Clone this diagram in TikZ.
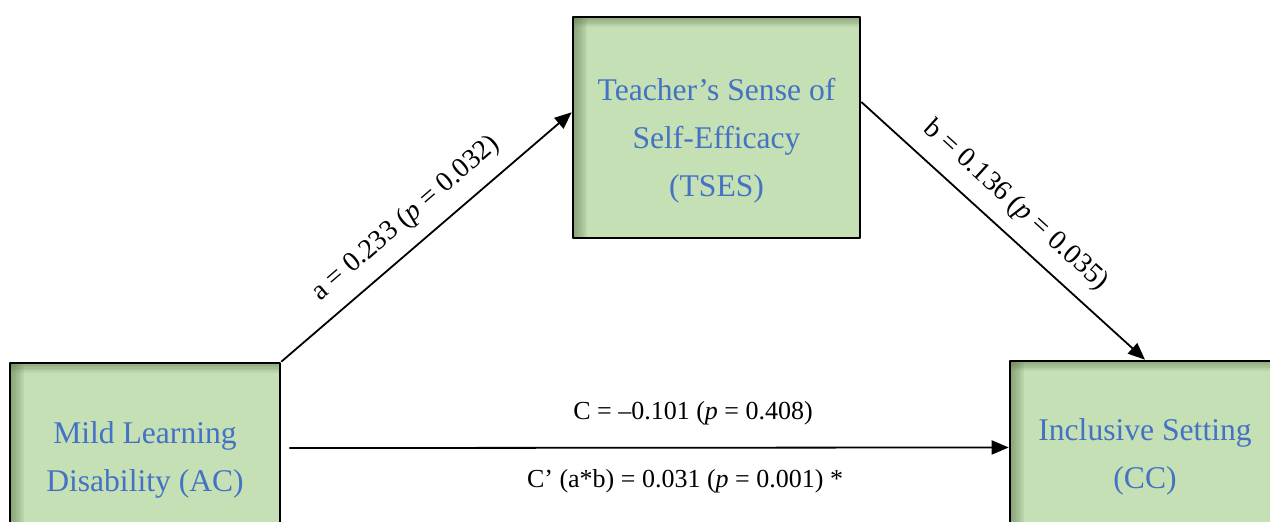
\documentclass[tikz,border=0pt]{standalone}
\usepackage{fontspec}
\setmainfont{Liberation Serif}
\usetikzlibrary{arrows.meta}
\definecolor{boxfill}{HTML}{C5E0B4}
\definecolor{boxtext}{HTML}{4472C4}
\definecolor{boxshade}{HTML}{5F7A4E}
\newcommand{\boxfontsize}{\fontsize{15.8}{24}\selectfont}
\newcommand{\coeffontsize}{\fontsize{13}{16}\selectfont}
\newcommand{\slopefontsize}{\fontsize{14}{17}\selectfont}
\newcommand{\droptext}[2]{\raisebox{-#1}[\height][\depth]{\begin{tabular}{@{}c@{}}#2\end{tabular}}}
\tikzset{
  every picture/.style = {line join=round},
  innershade/.style    = {path picture={
      \foreach \k in {1,...,7}{
        \fill[boxshade, opacity=0.11] (path picture bounding box.north west)
          rectangle ([xshift=\k pt]path picture bounding box.south west);
        \fill[boxshade, opacity=0.09] (path picture bounding box.north west)
          rectangle ([yshift={-0.7*\k pt}]path picture bounding box.north east);
      }}},
  varbox/.style        = {draw=black, line width=1.3pt, fill=boxfill, text=boxtext,
                          font=\boxfontsize, align=center, inner sep=0pt, innershade},
  effect/.style        = {line width=0.9pt, -{Triangle[length=8.5pt, width=7pt]}},
  coef/.style          = {font=\coeffontsize, text=black},
  slopecoef/.style     = {font=\slopefontsize, text=black, sloped},
}

\begin{document}
\begin{tikzpicture}[x=0.5pt, y=0.5pt]
  \useasboundingbox (0,0) rectangle (1270,522);
  \clip (0,0) rectangle (1270,522);

  % the three variables of the mediation model
  \node[varbox, minimum width=143.5pt, minimum height=110.5pt] (tses) at (716.5,394.5)
    {\droptext{5.5pt}{Teacher’s Sense of\\Self-Efficacy\\(TSES)}};
  \node[varbox, minimum width=135pt, minimum height=97pt] (ac) at (145,62)
    {Mild Learning\\Disability (AC)};
  \node[varbox, minimum width=135pt, minimum height=96pt] (cc) at (1145,65)
    {Inclusive Setting\\(CC)};

  % paths a and b through the mediator
  \draw[effect] (ac.north east) -- (tses.174)
    node[slopecoef, pos=0.49, above=3.5pt] (pathA) {a = 0.233 (\textit{p} = 0.032)};
  \draw[effect] (tses.10) -- (cc.north)
    node[slopecoef, pos=0.48, above=3.5pt] (pathB) {b = 0.136 (\textit{p} = 0.035)};

  % direct path, total and indirect effect on either side of it
  \draw[effect, shorten <=4pt] (ac.5.5) -- (cc.176)
    node[coef, pos=0.566, yshift=17pt] (pathC) {C = –0.101 (\textit{p} = 0.408)}
    node[coef, pos=0.555, yshift=-17pt] (pathCi) {C’ (a*b) = 0.031 (\textit{p} = 0.001) *};
\end{tikzpicture}
\end{document}
